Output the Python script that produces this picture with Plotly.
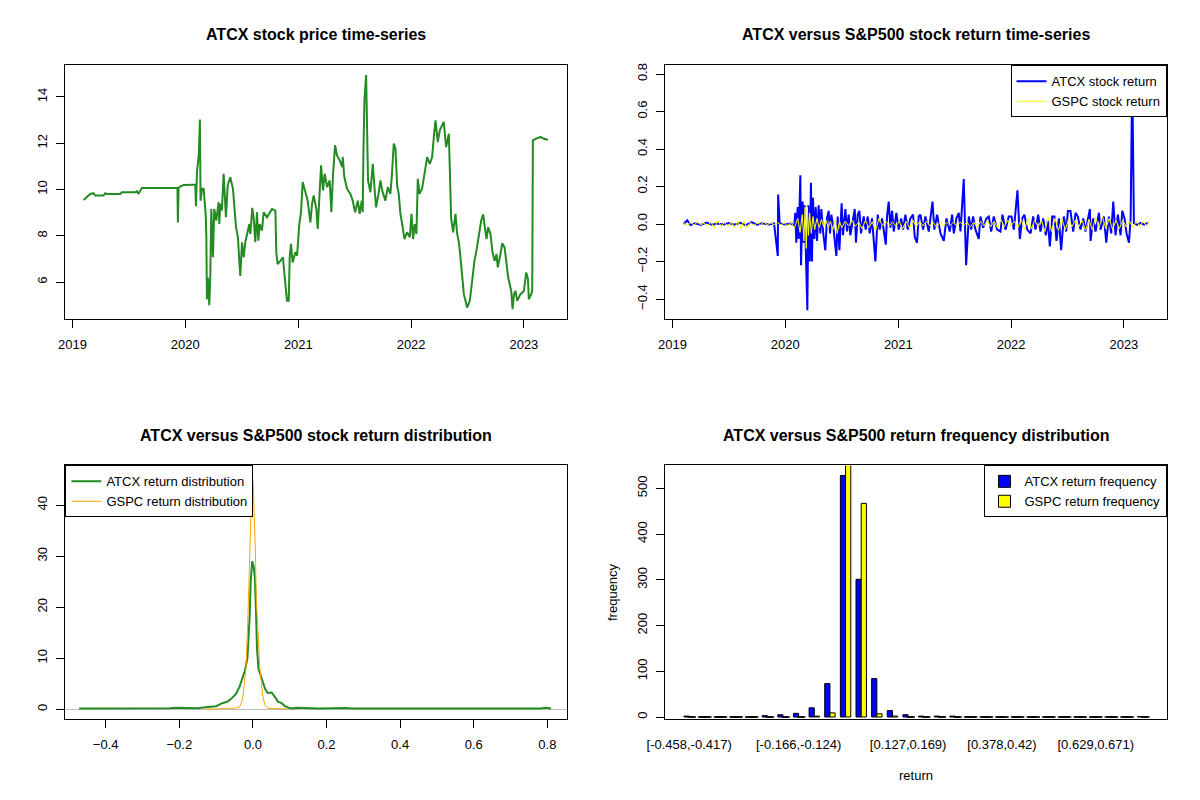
import pandas as pd
import plotly.graph_objects as go

# ---------------- data ----------------
# ATCX closing price: (decimal year, price)
price_years = [2019.098, 2019.157, 2019.186, 2019.201, 2019.275, 2019.290, 2019.305, 2019.423, 2019.438,
               2019.556, 2019.571, 2019.585, 2019.615, 2019.718, 2019.733, 2019.896, 2019.911, 2019.930,
               2019.934, 2019.940, 2019.955, 2019.984, 2020.073, 2020.088, 2020.094, 2020.103, 2020.120,
               2020.129, 2020.135, 2020.147, 2020.162, 2020.171, 2020.180, 2020.186, 2020.191, 2020.200,
               2020.212, 2020.221, 2020.230, 2020.245, 2020.256, 2020.274, 2020.295, 2020.301, 2020.310,
               2020.324, 2020.339, 2020.360, 2020.375, 2020.398, 2020.422, 2020.449, 2020.466, 2020.478,
               2020.487, 2020.502, 2020.517, 2020.531, 2020.546, 2020.567, 2020.576, 2020.593, 2020.605,
               2020.620, 2020.635, 2020.647, 2020.659, 2020.679, 2020.694, 2020.724, 2020.768, 2020.798,
               2020.806, 2020.818, 2020.842, 2020.866, 2020.871, 2020.886, 2020.901, 2020.916, 2020.925,
               2020.936, 2020.951, 2020.975, 2020.990, 2021.010, 2021.025, 2021.040, 2021.064, 2021.084,
               2021.108, 2021.123, 2021.137, 2021.161, 2021.173, 2021.191, 2021.203, 2021.220, 2021.235,
               2021.256, 2021.279, 2021.294, 2021.309, 2021.327, 2021.344, 2021.368, 2021.389, 2021.395,
               2021.409, 2021.433, 2021.463, 2021.483, 2021.504, 2021.528, 2021.545, 2021.563, 2021.572,
               2021.578, 2021.587, 2021.602, 2021.610, 2021.619, 2021.640, 2021.661, 2021.676, 2021.690,
               2021.714, 2021.729, 2021.744, 2021.773, 2021.794, 2021.817, 2021.829, 2021.838, 2021.847,
               2021.862, 2021.877, 2021.891, 2021.906, 2021.921, 2021.942, 2021.965, 2021.989, 2022.004,
               2022.018, 2022.033, 2022.048, 2022.060, 2022.075, 2022.098, 2022.122, 2022.143, 2022.166,
               2022.187, 2022.202, 2022.217, 2022.237, 2022.255, 2022.290, 2022.311, 2022.335, 2022.344,
               2022.356, 2022.373, 2022.394, 2022.409, 2022.424, 2022.438, 2022.453, 2022.468, 2022.497,
               2022.521, 2022.542, 2022.562, 2022.580, 2022.601, 2022.622, 2022.639, 2022.654, 2022.669,
               2022.684, 2022.704, 2022.722, 2022.740, 2022.758, 2022.769, 2022.793, 2022.808, 2022.829,
               2022.846, 2022.861, 2022.888, 2022.900, 2022.912, 2022.926, 2022.941, 2022.970, 2023.000,
               2023.021, 2023.036, 2023.044, 2023.065, 2023.074, 2023.080, 2023.104, 2023.148, 2023.177,
               2023.213]
price_vals = [9.55, 9.81, 9.84, 9.74, 9.74, 9.84, 9.81, 9.81, 9.88,
              9.88, 9.93, 9.81, 10.07, 10.07, 10.10, 10.10, 10.07, 10.07,
              8.58, 10.07, 10.13, 10.19, 10.20, 10.20, 9.28, 10.75, 11.55,
              13.02, 9.52, 10.03, 10.03, 9.38, 8.95, 8.01, 5.26, 6.20,
              5.00, 6.20, 9.16, 7.07, 9.16, 8.66, 9.45, 8.51, 9.38,
              9.09, 10.68, 8.80, 10.17, 10.53, 10.03, 8.37, 7.94, 6.92,
              6.27, 7.72, 7.07, 7.72, 8.08, 8.51, 8.08, 9.21, 8.80,
              7.72, 9.02, 7.79, 8.51, 8.22, 9.02, 8.80, 9.16, 9.09,
              7.29, 6.78, 6.92, 7.07, 6.71, 5.77, 5.19, 5.19, 7.07,
              7.65, 6.85, 7.29, 7.14, 8.51, 9.02, 10.32, 9.88, 9.52,
              8.58, 9.38, 9.74, 9.16, 8.30, 9.74, 11.04, 9.96, 10.68,
              10.10, 10.39, 9.02, 10.68, 11.91, 11.47, 11.26, 10.97, 11.40,
              10.53, 10.03, 9.81, 9.52, 9.02, 9.52, 8.95, 9.52, 9.02,
              11.55, 13.86, 14.94, 12.56, 10.39, 9.88, 11.11, 10.10, 9.23,
              9.88, 10.39, 9.96, 9.52, 10.10, 9.81, 10.53, 11.33, 11.98,
              11.76, 10.17, 9.81, 8.95, 8.51, 7.86, 8.15, 7.94, 8.95,
              7.86, 8.51, 8.08, 10.46, 9.81, 10.03, 10.75, 11.40, 11.11,
              11.40, 12.27, 12.99, 12.05, 12.56, 12.92, 11.83, 12.41, 10.82,
              8.73, 8.15, 8.95, 8.08, 7.72, 7.07, 6.13, 5.48, 4.90,
              5.19, 6.06, 6.92, 7.36, 8.08, 8.66, 8.92, 8.30, 7.86,
              8.37, 8.08, 7.29, 6.92, 7.21, 6.64, 7.22, 7.68, 7.50,
              6.78, 6.20, 5.62, 4.83, 5.48, 5.62, 5.19, 5.48, 5.62,
              6.42, 6.13, 5.26, 5.48, 5.62, 12.12, 12.19, 12.27, 12.19,
              12.15]

# ATCX daily log return (decimal year, return)
atcx_ret_years = [2019.10, 2019.13, 2019.16, 2019.20, 2019.25, 2019.30, 2019.35, 2019.40, 2019.45, 2019.50,
                  2019.55, 2019.60, 2019.65, 2019.70, 2019.75, 2019.80, 2019.85, 2019.90, 2019.933, 2019.936,
                  2019.95, 2020.00, 2020.05, 2020.08, 2020.088, 2020.097, 2020.109, 2020.118, 2020.133, 2020.139,
                  2020.153, 2020.162, 2020.171, 2020.180, 2020.195, 2020.204, 2020.216, 2020.227, 2020.236, 2020.245,
                  2020.257, 2020.269, 2020.281, 2020.295, 2020.310, 2020.319, 2020.334, 2020.354, 2020.369, 2020.384,
                  2020.396, 2020.408, 2020.428, 2020.452, 2020.464, 2020.479, 2020.499, 2020.511, 2020.532, 2020.547,
                  2020.561, 2020.576, 2020.597, 2020.615, 2020.626, 2020.641, 2020.656, 2020.671, 2020.694, 2020.712,
                  2020.730, 2020.748, 2020.768, 2020.798, 2020.819, 2020.836, 2020.857, 2020.872, 2020.890, 2020.901,
                  2020.916, 2020.931, 2020.946, 2020.961, 2020.984, 2021.005, 2021.026, 2021.043, 2021.064, 2021.085,
                  2021.108, 2021.132, 2021.147, 2021.167, 2021.182, 2021.197, 2021.221, 2021.241, 2021.271, 2021.304,
                  2021.321, 2021.345, 2021.375, 2021.404, 2021.428, 2021.457, 2021.478, 2021.493, 2021.516, 2021.537,
                  2021.552, 2021.581, 2021.602, 2021.626, 2021.646, 2021.664, 2021.685, 2021.714, 2021.729, 2021.753,
                  2021.782, 2021.803, 2021.824, 2021.847, 2021.877, 2021.906, 2021.924, 2021.951, 2021.980, 2022.004,
                  2022.025, 2022.057, 2022.078, 2022.099, 2022.119, 2022.143, 2022.173, 2022.196, 2022.217, 2022.241,
                  2022.261, 2022.285, 2022.308, 2022.326, 2022.344, 2022.365, 2022.385, 2022.403, 2022.424, 2022.444,
                  2022.468, 2022.489, 2022.504, 2022.527, 2022.551, 2022.572, 2022.592, 2022.616, 2022.640, 2022.660,
                  2022.681, 2022.699, 2022.705, 2022.728, 2022.749, 2022.779, 2022.793, 2022.823, 2022.844, 2022.867,
                  2022.888, 2022.906, 2022.926, 2022.947, 2022.971, 2022.986, 2023.006, 2023.024, 2023.045, 2023.060,
                  2023.074, 2023.089, 2023.119, 2023.148, 2023.178, 2023.207, 2023.213]
atcx_ret_vals = [0.000, 0.020, -0.006, 0.004, -0.005, 0.008, -0.004, 0.003, -0.003, 0.005,
                 -0.004, 0.006, -0.006, 0.010, -0.003, 0.004, -0.003, 0.003, -0.170, 0.157,
                 0.003, -0.003, 0.004, -0.010, 0.060, -0.100, 0.090, -0.080, 0.260, -0.220,
                 0.120, -0.100, 0.100, -0.150, -0.460, 0.100, -0.200, 0.220, -0.200, 0.140,
                 -0.080, 0.090, -0.090, 0.100, -0.050, 0.080, -0.040, -0.140, 0.030, 0.070,
                 -0.050, 0.050, -0.030, -0.170, 0.040, -0.140, 0.110, -0.060, 0.080, -0.040,
                 0.050, -0.060, 0.030, 0.080, -0.100, 0.050, 0.070, -0.050, 0.040, -0.030,
                 0.040, -0.050, 0.030, -0.200, 0.050, -0.030, 0.030, -0.040, -0.110, 0.040,
                 0.120, -0.020, 0.070, -0.040, 0.060, -0.030, 0.030, -0.030, 0.050, -0.030,
                 0.030, 0.050, -0.070, -0.100, 0.040, 0.050, -0.030, 0.040, -0.040, 0.120,
                 -0.030, 0.050, -0.050, -0.090, 0.030, -0.040, 0.050, -0.050, 0.030, 0.060,
                 -0.040, 0.240, -0.220, 0.040, -0.030, 0.040, -0.030, -0.080, 0.040, -0.020,
                 0.030, 0.040, -0.040, 0.040, -0.030, -0.040, 0.050, -0.030, 0.040, 0.040,
                 -0.030, 0.180, -0.080, 0.030, 0.050, -0.030, -0.050, 0.040, -0.030, 0.050,
                 -0.040, 0.030, -0.060, 0.020, -0.120, 0.040, 0.040, -0.090, 0.030, -0.140,
                 0.040, -0.040, 0.070, 0.070, -0.040, 0.060, 0.040, -0.030, 0.030, -0.040,
                 0.020, 0.080, -0.090, 0.030, -0.040, 0.060, -0.030, 0.040, -0.100, 0.040,
                 -0.050, 0.120, -0.060, 0.050, -0.060, 0.070, 0.030, -0.050, -0.100, 0.030,
                 0.790, 0.005, -0.004, 0.006, -0.003, 0.004, 0.000]

# S&P500 (GSPC) daily log return (decimal year, return)
gspc_ret_years = [2019.10, 2019.13, 2019.16, 2019.19, 2019.22, 2019.25, 2019.28, 2019.31, 2019.34, 2019.37,
                  2019.40, 2019.43, 2019.46, 2019.49, 2019.52, 2019.55, 2019.58, 2019.61, 2019.63, 2019.66,
                  2019.69, 2019.72, 2019.75, 2019.78, 2019.81, 2019.84, 2019.87, 2019.90, 2019.93, 2019.96,
                  2019.99, 2020.02, 2020.05, 2020.08, 2020.11, 2020.13, 2020.15, 2020.165, 2020.175, 2020.185,
                  2020.195, 2020.205, 2020.215, 2020.23, 2020.245, 2020.26, 2020.28, 2020.30, 2020.32, 2020.34,
                  2020.36, 2020.38, 2020.40, 2020.42, 2020.44, 2020.46, 2020.48, 2020.50, 2020.53, 2020.56,
                  2020.59, 2020.62, 2020.65, 2020.68, 2020.71, 2020.74, 2020.77, 2020.80, 2020.83, 2020.86,
                  2020.89, 2020.92, 2020.95, 2020.98, 2021.01, 2021.04, 2021.07, 2021.10, 2021.13, 2021.16,
                  2021.19, 2021.22, 2021.25, 2021.28, 2021.31, 2021.34, 2021.37, 2021.40, 2021.43, 2021.46,
                  2021.49, 2021.52, 2021.55, 2021.58, 2021.61, 2021.64, 2021.67, 2021.70, 2021.73, 2021.76,
                  2021.79, 2021.82, 2021.85, 2021.88, 2021.91, 2021.94, 2021.97, 2022.00, 2022.03, 2022.06,
                  2022.09, 2022.12, 2022.15, 2022.18, 2022.21, 2022.24, 2022.27, 2022.30, 2022.33, 2022.36,
                  2022.39, 2022.42, 2022.45, 2022.48, 2022.51, 2022.54, 2022.57, 2022.60, 2022.63, 2022.66,
                  2022.69, 2022.72, 2022.75, 2022.78, 2022.81, 2022.84, 2022.87, 2022.90, 2022.93, 2022.96,
                  2022.99, 2023.02, 2023.05, 2023.08, 2023.11, 2023.14, 2023.17, 2023.20, 2023.22]
gspc_ret_vals = [0.003, -0.006, 0.008, -0.005, 0.010, -0.004, 0.006, -0.010, 0.012, -0.025,
                 0.020, -0.010, 0.008, -0.012, 0.010, -0.020, 0.015, -0.030, 0.018, -0.020,
                 0.010, -0.010, 0.008, -0.005, 0.010, -0.004, 0.006, -0.003, 0.008, -0.005,
                 0.006, -0.010, 0.010, -0.020, 0.030, -0.045, 0.050, -0.090, 0.090, -0.130,
                 0.090, -0.060, 0.060, -0.050, 0.040, -0.030, 0.030, -0.020, 0.025, -0.015,
                 0.020, -0.020, 0.015, -0.030, 0.020, -0.050, 0.015, -0.020, 0.015, -0.010,
                 0.020, -0.012, 0.010, -0.025, 0.020, -0.020, 0.012, -0.035, 0.030, -0.010,
                 0.015, -0.010, 0.012, -0.012, 0.015, -0.025, 0.015, -0.020, 0.020, -0.015,
                 0.015, -0.010, 0.015, -0.010, 0.012, -0.020, 0.012, -0.012, 0.010, -0.008,
                 0.010, -0.010, 0.010, -0.008, 0.010, -0.015, 0.010, -0.020, 0.015, -0.010,
                 0.020, -0.015, 0.015, -0.020, 0.025, -0.015, 0.020, -0.010, 0.015, -0.020,
                 0.025, -0.030, 0.030, -0.025, 0.020, -0.015, 0.020, -0.040, 0.035, -0.040,
                 0.030, -0.035, 0.030, -0.030, 0.025, -0.015, 0.020, -0.015, 0.020, -0.035,
                 0.025, -0.030, 0.035, -0.020, 0.040, -0.025, 0.030, -0.030, 0.020, -0.025,
                 0.020, -0.015, 0.015, -0.020, 0.015, -0.012, 0.015, -0.010, 0.010]

# kernel density estimates of the returns
atcx_dens_x = [-0.472, -0.40, -0.30, -0.226, -0.21, -0.19, -0.15, -0.13, -0.11, -0.10,
               -0.083, -0.069, -0.060, -0.046, -0.036, -0.028, -0.022, -0.015, -0.009, -0.006,
               -0.002, 0.002, 0.005, 0.008, 0.011, 0.015, 0.021, 0.028, 0.033, 0.040,
               0.051, 0.059, 0.068, 0.078, 0.087, 0.097, 0.106, 0.120, 0.144, 0.180,
               0.250, 0.270, 0.40, 0.60, 0.780, 0.797, 0.810]
atcx_dens_y = [0.15, 0.15, 0.15, 0.2, 0.3, 0.25, 0.2, 0.4, 0.45, 0.6,
               1.2, 1.5, 2.0, 3.0, 4.5, 6.5, 7.5, 10.0, 18.0, 25.0,
               29.0, 28.0, 26.0, 20.0, 12.0, 8.0, 6.5, 5.0, 4.0, 3.2,
               3.3, 2.5, 1.5, 1.2, 0.6, 0.3, 0.15, 0.3, 0.2, 0.15,
               0.25, 0.15, 0.15, 0.15, 0.15, 0.3, 0.15]
gspc_dens_x = [-0.130, -0.100, -0.070, -0.050, -0.036, -0.028, -0.025, -0.019, -0.015, -0.012,
               -0.009, -0.006, -0.002, 0.001, 0.004, 0.007, 0.009, 0.013, 0.019, 0.026,
               0.032, 0.040, 0.059, 0.092, 0.097]
gspc_dens_y = [0.05, 0.05, 0.2, 0.2, 0.5, 2.0, 4.0, 8.0, 15.0, 22.0,
               28.0, 38.0, 46.0, 44.0, 38.0, 30.0, 22.0, 15.0, 8.0, 3.0,
               1.0, 0.2, 0.15, 0.1, 0.05]

# histogram of returns (30 equal-width bins)
bin_labels = ["[-0.458,-0.417)", "[-0.417,-0.375)", "[-0.375,-0.333)", "[-0.333,-0.291)", "[-0.291,-0.25)",
              "[-0.25,-0.208)", "[-0.208,-0.166)", "[-0.166,-0.124)", "[-0.124,-0.0822)", "[-0.0822,-0.0404)",
              "[-0.0404,0.00141)", "[0.00141,0.0432)", "[0.0432,0.085)", "[0.085,0.127)", "[0.127,0.169)",
              "[0.169,0.21)", "[0.21,0.252)", "[0.252,0.294)", "[0.294,0.336)", "[0.336,0.378)",
              "[0.378,0.42)", "[0.42,0.461)", "[0.461,0.503)", "[0.503,0.545)", "[0.545,0.587)",
              "[0.587,0.629)", "[0.629,0.671)", "[0.671,0.712)", "[0.712,0.754)", "[0.754,0.796]"]
shown_bins = [0, 7, 14, 20, 26]
atcx_freq = [2, 0, 0, 0, 0, 3, 5, 8, 20, 73, 528, 301, 84, 14, 5, 2, 2, 2, 0, 0,
             0, 0, 0, 0, 0, 0, 0, 0, 0, 1]
gspc_freq = [0, 0, 0, 0, 0, 0, 0, 0, 2, 9, 566, 467, 7, 2, 0, 0, 0, 0, 0, 0,
             0, 0, 0, 0, 0, 0, 0, 0, 0, 0]

year_ticks = ["2019", "2020", "2021", "2022", "2023"]

# ---------------- helpers ----------------
def to_dates(years):
    base = pd.Timestamp("2019-01-01")
    return [base + pd.Timedelta(days=(y - 2019) * 365.25) for y in years]

# the page body has an 8px margin, so the figure is 8px smaller and coordinates
# below are given in window pixels, shifted by that margin
OFF = 8
W, H = 1200 - OFF, 800 - OFF
def fx(px):
    return (px - OFF) / W
def fy(py):
    return 1 - (py - OFF) / H
def px_x(a, b):
    return [fx(a), fx(b)]
def px_y(top, bottom):
    return [fy(bottom), fy(top)]

FONT = "Arial, Liberation Sans, sans-serif"
BLACK = "black"
GREEN = "#228B22"

fig = go.Figure()

# panel 1: price
fig.add_trace(go.Scatter(x=to_dates(price_years), y=price_vals, mode="lines",
                         line=dict(color=GREEN, width=2), showlegend=False,
                         xaxis="x", yaxis="y"))

# panel 2: returns
fig.add_trace(go.Scatter(x=to_dates(atcx_ret_years), y=atcx_ret_vals, mode="lines",
                         line=dict(color="#0000FF", width=2), name="ATCX stock return",
                         xaxis="x2", yaxis="y2", legend="legend"))
fig.add_trace(go.Scatter(x=to_dates(gspc_ret_years), y=gspc_ret_vals, mode="lines",
                         line=dict(color="#FFFF00", width=1), name="GSPC stock return",
                         xaxis="x2", yaxis="y2", legend="legend"))

# panel 3: densities
fig.add_trace(go.Scatter(x=atcx_dens_x, y=atcx_dens_y, mode="lines",
                         line=dict(color=GREEN, width=2), name="ATCX return distribution",
                         xaxis="x3", yaxis="y3", legend="legend2"))
fig.add_trace(go.Scatter(x=gspc_dens_x, y=gspc_dens_y, mode="lines",
                         line=dict(color="#FFA500", width=1), name="GSPC return distribution",
                         xaxis="x3", yaxis="y3", legend="legend2"))

# panel 4: grouped frequency bars
bin_idx = list(range(len(bin_labels)))
fig.add_trace(go.Bar(x=bin_idx, y=atcx_freq, name="ATCX return frequency",
                     marker=dict(color="#0000FF", line=dict(color=BLACK, width=1)),
                     xaxis="x4", yaxis="y4", legend="legend3"))
fig.add_trace(go.Bar(x=bin_idx, y=gspc_freq, name="GSPC return frequency",
                     marker=dict(color="#FFFF00", line=dict(color=BLACK, width=1)),
                     xaxis="x4", yaxis="y4", legend="legend3"))
# zero-height bars are drawn by R as a flat border segment
zx, zy = [], []
for k in bin_idx:
    if atcx_freq[k] == 0:
        zx.append(k - 1 / 6); zy.append(0)
    if gspc_freq[k] == 0:
        zx.append(k + 1 / 6); zy.append(0)
fig.add_trace(go.Scatter(x=zx, y=zy, mode="markers", showlegend=False, hoverinfo="skip",
                         marker=dict(symbol="line-ew", size=6, line=dict(color=BLACK, width=1.5)),
                         xaxis="x4", yaxis="y4"))

axis_common = dict(showline=True, mirror=True, linecolor=BLACK, linewidth=1,
                   ticks="outside", ticklen=8, tickcolor=BLACK, tickwidth=1,
                   showgrid=False, zeroline=False, automargin=False,
                   tickfont=dict(family=FONT, size=13, color=BLACK))

date_ticks = [pd.Timestamp(f"{y}-01-01") for y in year_ticks]
date_range = ["2018-12-09", "2023-05-19"]

L1, R1 = 65.4, 566.5
L2, R2 = 665.4, 1166.5
T1, B1 = 65.4, 318.7
T2, B2 = 465.4, 718.7

fig.update_layout(
    template="none",
    width=W, height=H, margin=dict(l=0, r=0, t=0, b=0, autoexpand=False),
    paper_bgcolor="white", plot_bgcolor="white",
    font=dict(family=FONT, size=13, color=BLACK),
    barmode="group", bargap=1 / 3, bargroupgap=0,
    hovermode=False,
    xaxis=dict(axis_common, domain=px_x(L1, R1), anchor="y", type="date", range=date_range,
               tickvals=date_ticks, ticktext=year_ticks, ticklabelstandoff=6),
    yaxis=dict(axis_common, domain=px_y(T1, B1), anchor="x", range=[4.42, 15.36],
               tickvals=[6, 8, 10, 12, 14], tickangle=-90, ticklabelstandoff=4),
    xaxis2=dict(axis_common, domain=px_x(L2, R2), anchor="y2", type="date", range=date_range,
                tickvals=date_ticks, ticktext=year_ticks, ticklabelstandoff=6),
    yaxis2=dict(axis_common, domain=px_y(T1, B1), anchor="x2", range=[-0.505, 0.846],
                tickvals=[-0.4, -0.2, 0, 0.2, 0.4, 0.6, 0.8], tickformat=".1f",
                tickangle=-90, ticklabelstandoff=4),
    xaxis3=dict(axis_common, domain=px_x(L1, R1), anchor="y3", range=[-0.5095, 0.852],
                tickvals=[-0.4, -0.2, 0, 0.2, 0.4, 0.6, 0.8], tickformat=".1f",
                ticklabelstandoff=6),
    yaxis3=dict(axis_common, domain=px_y(T2, B2), anchor="x3", range=[-1.84, 47.8],
                tickvals=[0, 10, 20, 30, 40], tickangle=-90, ticklabelstandoff=4,
                zeroline=True, zerolinecolor="#BEBEBE", zerolinewidth=1),
    xaxis4=dict(axis_common, domain=px_x(L2, R2), anchor="y4", range=[-1.52, 30.52],
                tickvals=shown_bins, ticktext=[bin_labels[i] for i in shown_bins],
                ticks="", ticklabelstandoff=14),
    yaxis4=dict(axis_common, domain=px_y(T2, B2), anchor="x4", range=[-3.7, 550],
                tickvals=[0, 100, 200, 300, 400, 500], tickangle=-90, ticklabelstandoff=4),
)

legend_common = dict(bgcolor="white", bordercolor=BLACK, borderwidth=1,
                     font=dict(family=FONT, size=13, color=BLACK),
                     tracegroupgap=0, yanchor="top", itemclick=False, itemdoubleclick=False)
fig.update_layout(
    legend=dict(legend_common, x=fx(R2), y=fy(T1), xanchor="right"),
    legend2=dict(legend_common, x=fx(L1), y=fy(T2), xanchor="left"),
    legend3=dict(legend_common, x=fx(R2), y=fy(T2), xanchor="right"),
)

titles = [("ATCX stock price time-series", (L1 + R1) / 2, 35),
          ("ATCX versus S&P500 stock return time-series", (L2 + R2) / 2, 35),
          ("ATCX versus S&P500 stock return distribution", (L1 + R1) / 2, 435),
          ("ATCX versus S&P500 return frequency distribution", (L2 + R2) / 2, 435)]
for text, cx, cy in titles:
    fig.add_annotation(text=f"<b>{text}</b>", x=fx(cx), y=fy(cy), xref="paper", yref="paper",
                       showarrow=False, xanchor="center", yanchor="middle",
                       font=dict(family=FONT, size=16, color=BLACK))
fig.add_annotation(text="return", x=fx((L2 + R2) / 2), y=fy(775), xref="paper", yref="paper",
                   showarrow=False, xanchor="center", yanchor="middle",
                   font=dict(family=FONT, size=13, color=BLACK))
fig.add_annotation(text="frequency", x=fx(612), y=fy(592), xref="paper", yref="paper",
                   showarrow=False, xanchor="center", yanchor="middle", textangle=-90,
                   font=dict(family=FONT, size=13, color=BLACK))

fig.write_html("out.html")
